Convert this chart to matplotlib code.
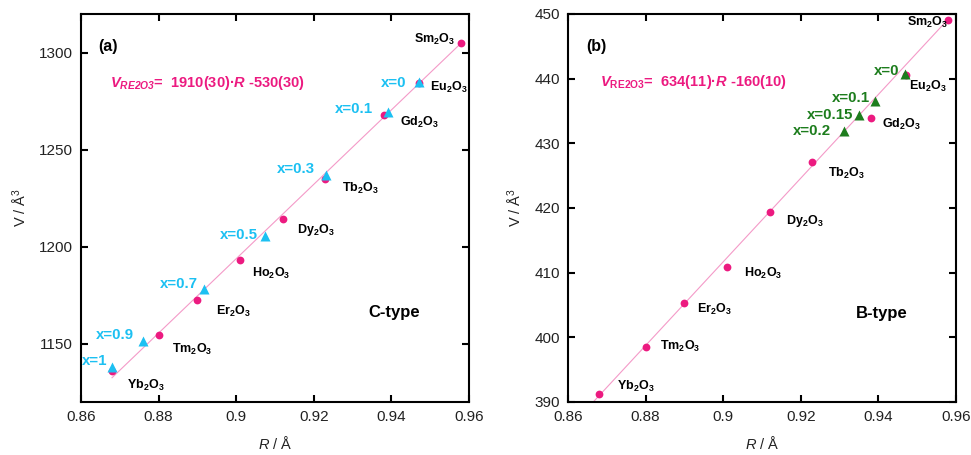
import numpy as np
import matplotlib
matplotlib.use('Agg')
import matplotlib.pyplot as plt

plt.rcParams['font.family'] = ['Liberation Sans', 'DejaVu Sans']
plt.rcParams['mathtext.fontset'] = 'custom'
plt.rcParams['mathtext.rm'] = 'Liberation Sans'
plt.rcParams['mathtext.it'] = 'Liberation Sans:italic'
plt.rcParams['mathtext.bf'] = 'Liberation Sans:bold'
plt.rcParams['mathtext.bfit'] = 'Liberation Sans:bold:italic'

# --- datos ---
oxides = ['Sm', 'Eu', 'Gd', 'Tb', 'Dy', 'Ho', 'Er', 'Tm', 'Yb']
r_ion = [0.958, 0.947, 0.938, 0.923, 0.912, 0.901, 0.890, 0.880, 0.868]

v_ctype = [1305.2, 1284.3, 1267.8, 1235.1, 1214.3, 1193.2, 1172.7, 1154.5, 1136.1]
v_btype = [449.0, 440.6, 433.9, 427.1, 419.3, 410.8, 405.3, 398.5, 391.2]

# solución sólida (triángulos)
x_c = ['0', '0.1', '0.3', '0.5', '0.7', '0.9', '1']
r_c = [0.947, 0.9392, 0.9232, 0.9074, 0.8917, 0.8759, 0.868]
v_c = [1285.0, 1269.3, 1236.8, 1205.6, 1178.4, 1151.4, 1138.0]

x_b = ['0', '0.1', '0.15', '0.2']
r_b = [0.9468, 0.9392, 0.935, 0.9312]
v_b = [440.7, 436.5, 434.3, 431.9]

# rectas de ajuste (extremos)
fit_c_r = [0.868, 0.958]
fit_c_v = [1132.5, 1305.0]
fit_b_r = [0.8665, 0.958]
fit_b_v = [390.0, 449.2]

# posiciones de etiquetas
lab_c = [(0.9457, 1304.9), (0.9500, 1280.3), (0.9422, 1262.4), (0.9272, 1228.1),
         (0.9157, 1207.0), (0.9042, 1184.3), (0.8947, 1164.8), (0.8834, 1145.1),
         (0.8718, 1126.5)]
lab_b = [(0.9473, 448.1), (0.9480, 438.25), (0.9408, 432.3), (0.9271, 424.8),
         (0.9162, 417.5), (0.9054, 409.4), (0.8932, 403.8), (0.8837, 398.0),
         (0.8726, 391.8)]
xlab_c = [(0.9438, 1282.4), (0.9352, 1269.0), (0.9203, 1237.9), (0.9055, 1203.9),
          (0.8902, 1178.6), (0.8737, 1152.3), (0.8669, 1138.9)]
xlab_b = [(0.9454, 440.6), (0.9377, 436.3), (0.9335, 433.7), (0.9277, 431.3)]

PINK = '#ec1a80'
LINE = '#f49ac8'
BLUE = '#1cc0f2'
GREEN = '#1d7d1d'

fig = plt.figure(figsize=(9.71, 4.55), dpi=100)
ax1 = fig.add_axes([0.0834, 0.1165, 0.3996, 0.853])
ax2 = fig.add_axes([0.585, 0.1165, 0.3996, 0.853])


def estilo(ax, ylim, yticks):
    ax.set_xlim(0.86, 0.96)
    ax.set_ylim(*ylim)
    ax.set_xticks([0.86, 0.88, 0.9, 0.92, 0.94, 0.96])
    ax.set_xticklabels(['0.86', '0.88', '0.9', '0.92', '0.94', '0.96'])
    ax.set_yticks(yticks)
    ax.tick_params(direction='in', top=True, right=True, length=5, width=1.5,
                   labelsize=11, pad=6, colors='black')
    ax.tick_params(axis='both', labelcolor='#222222')
    for s in ax.spines.values():
        s.set_linewidth(1.5)
    ax.set_xlabel(r'$\it{R}$ / Å', fontsize=10.5, labelpad=8, color='#222222')
    ax.set_ylabel(r'V / Å$^3$', fontsize=10.5, labelpad=7, color='#222222')


def quimica(el):
    return el + r'$_\mathbf{2}$O$_\mathbf{3}$'


# (a) C-type
estilo(ax1, (1120, 1320), [1150, 1200, 1250, 1300])
ax1.plot(fit_c_r, fit_c_v, color=LINE, lw=0.8, zorder=1)
ax1.plot(r_ion, v_ctype, 'o', color=PINK, ms=5.6, mec='none', zorder=2)
ax1.plot(r_c, v_c, '^', color=BLUE, ms=7, mec='none', zorder=3)
for el, (xx, yy) in zip(oxides, lab_c):
    ax1.text(xx, yy, quimica(el), fontsize=9, fontweight='bold', ha='left', va='baseline')
for xv, (xx, yy) in zip(x_c, xlab_c):
    ax1.text(xx, yy, 'x=' + xv, fontsize=10.8, fontweight='bold', color=BLUE,
             ha='right', va='baseline')
ax1.text(0.8645, 1301.1, '(a)', fontsize=11.5, fontweight='bold', va='baseline')
ax1.text(0.8675, 1282.2, r'$\mathbfit{V}_{\mathbfit{RE2O3}}$=  1910(30)·$\mathbfit{R}$ -530(30)',
         fontsize=10.5, fontweight='bold', color=PINK, va='baseline')
ax1.text(0.934, 1163.7, 'C-type', fontsize=12, fontweight='bold', va='baseline')

# (b) B-type
estilo(ax2, (390, 450), [390, 400, 410, 420, 430, 440, 450])
ax2.plot(fit_b_r, fit_b_v, color=LINE, lw=0.8, zorder=1)
ax2.plot(r_ion, v_btype, 'o', color=PINK, ms=5.6, mec='none', zorder=2, clip_on=False)
ax2.plot(r_b, v_b, '^', color=GREEN, ms=7, mec='none', zorder=3)
for el, (xx, yy) in zip(oxides, lab_b):
    ax2.text(xx, yy, quimica(el), fontsize=9, fontweight='bold', ha='left', va='baseline')
for xv, (xx, yy) in zip(x_b, xlab_b):
    ax2.text(xx, yy, 'x=' + xv, fontsize=10.8, fontweight='bold', color=GREEN,
             ha='right', va='baseline')
ax2.text(0.8646, 444.2, '(b)', fontsize=11.5, fontweight='bold', va='baseline')
ax2.text(0.8682, 438.9, r'$\mathbfit{V}_{\mathbf{RE2O3}}$=  634(11)·$\mathbfit{R}$ -160(10)',
         fontsize=10.5, fontweight='bold', color=PINK, va='baseline')
ax2.text(0.9341, 403.0, 'B-type', fontsize=12, fontweight='bold', va='baseline')

fig.savefig('out.png', dpi=100)
